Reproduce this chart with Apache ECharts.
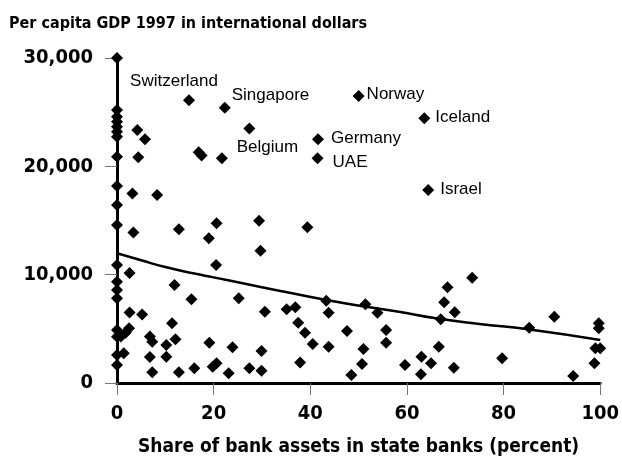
<!DOCTYPE html>
<html>
<head>
<meta charset="utf-8">
<script src="https://cdn.jsdelivr.net/npm/echarts@6/dist/echarts.min.js"></script>
<style>
  html, body { margin: 0; padding: 0; background: #fff; }
  #chart { width: 622px; height: 468px; }
</style>
</head>
<body>
<div id="chart"></div>
<script>
// state share of bank assets (percent) and per capita GDP, unlabelled points
const shareX = [
  0, 0, 0, 0, 0, 0, 0, 0, 0, 0, 0, 0, 0, 0, 0, 0, 0, 0, 0,
  4.2, 5.8, 4.4, 16.9, 17.5, 21.7, 3.2, 8.3, 3.4, 12.8, 20.6, 29.4, 39.4,
  19.0, 29.7, 20.5, 2.6, 11.9, 15.4, 25.2, 30.6, 35.1, 36.9, 2.6, 5.2, 11.4, 37.5,
  2.5, 0.8, 1.8, 6.8, 7.3, 12.1, 10.2, 19.1, 23.9, 38.9, 40.5, 29.9, 1.4, 6.8, 10.2,
  7.3, 12.8, 16.0, 19.8, 20.6, 23.1, 27.4, 29.9, 37.9, 43.3, 43.8, 51.4, 53.9, 43.8,
  47.6, 55.7, 55.7, 51.0, 50.7, 48.5, 59.6, 63.0, 65.0, 62.9, 66.6, 69.7, 67.0, 67.7,
  68.4, 69.9, 73.5, 79.7, 85.3, 90.5, 94.4, 99.7, 99.7, 99.0, 100, 98.8
];
const gdpY = [
  30000, 25200, 24580, 24120, 23660, 23200, 22740, 20890, 18180, 16430, 14580, 10890, 9350, 8580, 7820, 4890, 4270, 2580, 1660,
  23350, 22490, 20830, 21290, 21000, 20740, 17500, 17350, 13900, 14190, 14740, 14980, 14370,
  13360, 12210, 10890, 10150, 9050, 7730, 7820, 6580, 6800, 6990, 6500, 6330, 5510, 5570,
  5050, 4300, 4650, 4300, 3810, 4030, 3510, 3720, 3290, 4640, 3600, 2950, 2740, 2400, 2430,
  1000, 990, 1360, 1500, 1820, 900, 1360, 1140, 1890, 7600, 6490, 7260, 6490, 3350,
  4800, 4890, 3720, 3140, 1750, 740, 1660, 2430, 1820, 800, 3350, 1410, 5880, 7450,
  8830, 6530, 9720, 2280, 5100, 6120, 650, 5510, 5050, 3200, 3200, 1820
];

// labelled countries
const countryNames = ['Switzerland', 'Singapore', 'Belgium', 'Norway', 'Iceland', 'Germany', 'UAE', 'Israel'];
const countryX = [14.9, 22.3, 27.4, 50.0, 63.6, 41.6, 41.5, 64.4];
const countryY = [26100, 25400, 23500, 26490, 24430, 22490, 20740, 17810];

// fitted trend line
const trendX = [0, 5, 10, 16, 20, 26, 36, 48, 58, 66, 75, 85, 100];
const trendY = [11970, 11330, 10700, 10100, 9750, 9200, 8300, 7290, 6600, 5970, 5450, 4960, 3970];

const xTicks = [0, 20, 40, 60, 80, 100];
const yTicks = [0, 10000, 20000, 30000];

const heavy = "'DejaVu Sans Condensed', 'DejaVu Sans', sans-serif";

// where each country name sits relative to its marker
const labelPlace = {
  Switzerland: { position: 'top', offset: [-15, 1] },
  Singapore: { position: 'right', offset: [-4, -13] },
  Belgium: { position: 'bottom', offset: [18, -1] },
  Norway: { position: 'right', offset: [-3, -2] },
  Iceland: { position: 'right', offset: [0, -1] },
  Germany: { position: 'right', offset: [2, -1] },
  UAE: { position: 'right', offset: [4, 4] },
  Israel: { position: 'right', offset: [1, -1] }
};

const scatterData = shareX.map((x, i) => [x, gdpY[i]]);
const countryData = countryNames.map((n, i) => ({
  value: [countryX[i], countryY[i]],
  name: n,
  label: Object.assign({ show: true, formatter: n }, labelPlace[n])
}));
const trendData = trendX.map((x, i) => [x, trendY[i]]);

const chart = echarts.init(document.getElementById('chart'));
chart.setOption({
  animation: false,
  backgroundColor: '#fff',
  title: {
    text: 'Per capita GDP 1997 in international dollars',
    left: 4,
    top: 11,
    textStyle: { fontFamily: heavy, fontWeight: 'bold', fontSize: 16, color: '#000' }
  },
  grid: { left: 117, right: 19, top: 58, bottom: 85 },
  xAxis: {
    type: 'value',
    min: xTicks[0],
    max: xTicks[xTicks.length - 1],
    interval: 20,
    name: 'Share of bank assets in state banks (percent)',
    nameLocation: 'middle',
    nameGap: 55,
    nameTextStyle: { fontFamily: heavy, fontWeight: 'bold', fontSize: 19, color: '#000' },
    axisLine: { show: true, onZero: false, lineStyle: { color: '#000', width: 3 } },
    axisTick: { show: true, length: 12, lineStyle: { color: '#777', width: 1 } },
    axisLabel: { margin: 21, fontFamily: heavy, fontWeight: 'bold', fontSize: 20, color: '#000' },
    splitLine: { show: false }
  },
  yAxis: {
    type: 'value',
    min: yTicks[0],
    max: yTicks[yTicks.length - 1],
    interval: 10000,
    axisLine: { show: true, onZero: false, lineStyle: { color: '#000', width: 3 } },
    axisTick: { show: true, length: 12, lineStyle: { color: '#777', width: 1 } },
    axisLabel: {
      margin: 24,
      fontFamily: heavy, fontWeight: 'bold', fontSize: 20, color: '#000',
      formatter: function (v) { return v === 0 ? '0' : v.toLocaleString('en-US'); }
    },
    splitLine: { show: false }
  },
  series: [
    {
      name: 'trend',
      type: 'line',
      data: trendData,
      smooth: true,
      showSymbol: false,
      lineStyle: { color: '#000', width: 2.5 },
      z: 2
    },
    {
      name: 'countries',
      type: 'scatter',
      data: scatterData,
      symbol: 'diamond',
      symbolSize: 12,
      itemStyle: { color: '#000', opacity: 1 },
      clip: false,
      z: 3
    },
    {
      name: 'named',
      type: 'scatter',
      data: countryData,
      symbol: 'diamond',
      symbolSize: 12,
      itemStyle: { color: '#000', opacity: 1 },
      label: { distance: 5, fontFamily: "'Liberation Sans', Arial, sans-serif", fontSize: 17, color: '#000' },
      clip: false,
      z: 3
    }
  ]
});
</script>
</body>
</html>
